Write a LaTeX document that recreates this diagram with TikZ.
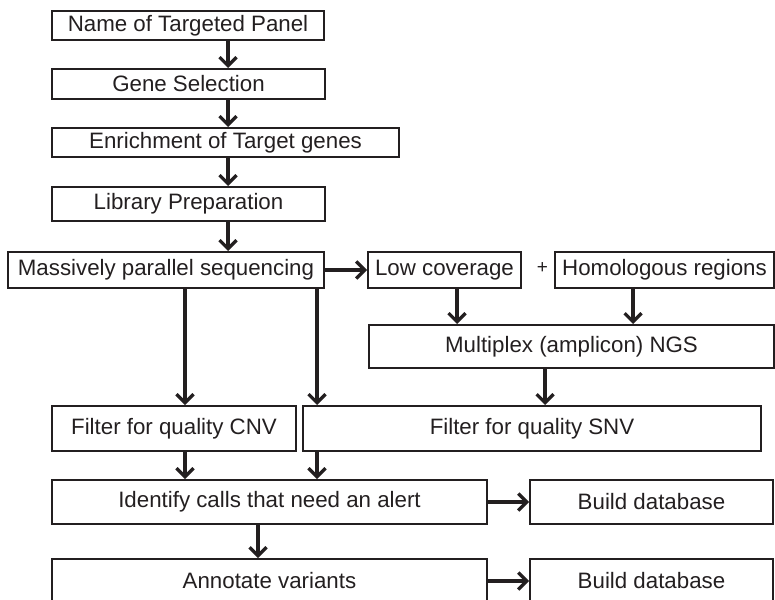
\documentclass[tikz,border=0pt]{standalone}
\usepackage{fontspec}
\setmainfont{Liberation Sans}
\usetikzlibrary{arrows.meta}
\definecolor{ink}{HTML}{231F20}
\tikzset{
  box/.style={draw=ink, line width=2pt, inner sep=0pt, text=ink,
    font=\fontsize{22.3}{24}\selectfont},
  arr/.style={draw=ink, line width=3.4pt,
    -{Straight Barb[length=8.5pt,width=17pt,line width=3.2pt]}},
}
\begin{document}
\begin{tikzpicture}[x=1pt,y=-1pt]
\useasboundingbox (0,0) rectangle (775,599);
\node[box, minimum width=272pt, minimum height=29.5pt] (name) at (188,25.5) {Name of Targeted Panel};
\node[box, minimum width=273pt, minimum height=30pt] (gene) at (188.5,84) {Gene Selection};
\node[box, minimum width=347pt, minimum height=29pt] (enrich) at (225.5,142.5) {Enrichment of Target genes};
\node[box, minimum width=273pt, minimum height=34pt] (lib) at (188.5,204) {Library Preparation};
\node[box, minimum width=316pt, minimum height=36pt] (mps) at (166,270) {Massively parallel sequencing};
\node[box, minimum width=153pt, minimum height=36pt] (low) at (444.5,270) {Low coverage};
\node[box, minimum width=219pt, minimum height=36pt] (homo) at (664.5,270) {Homologous regions};
\node[text=ink, font=\fontsize{19}{21}\selectfont, inner sep=0pt] (plus) at (542.5,268) {+};
\node[box, minimum width=405pt, minimum height=43pt] (multi) at (571.5,346.5) {Multiplex (amplicon) NGS};
\node[box, minimum width=244pt, minimum height=45pt] (cnv) at (174,428.5) {Filter for quality CNV};
\node[box, minimum width=458pt, minimum height=45pt] (snv) at (532,428.5) {Filter for quality SNV};
\node[box, minimum width=435pt, minimum height=44pt] (ident) at (269.5,502) {Identify calls that need an alert};
\node[box, minimum width=243pt, minimum height=44pt] (b1) at (651.5,502) {Build database};
\node[box, minimum width=435pt, minimum height=44pt] (annot) at (269.5,581) {Annotate variants};
\node[box, minimum width=243pt, minimum height=44pt] (b2) at (651.5,581) {Build database};

\coordinate (xa) at (228,0);
\coordinate (xb) at (185,0);
\coordinate (xc) at (317,0);
\coordinate (xd) at (258,0);
\coordinate (xe) at (457,0);
\coordinate (xf) at (633,0);
\coordinate (xg) at (545,0);

\draw[arr] (name.south -| xa) -- (gene.north -| xa);
\draw[arr] (gene.south -| xa) -- (enrich.north -| xa);
\draw[arr] (enrich.south -| xa) -- (lib.north -| xa);
\draw[arr] (lib.south -| xa) -- (mps.north -| xa);
\draw[arr] (mps.east) -- (low.west);
\draw[arr] (low.south -| xe) -- (multi.north -| xe);
\draw[arr] (homo.south -| xf) -- (multi.north -| xf);
\draw[arr] (mps.south -| xb) -- (cnv.north -| xb);
\draw[arr] (mps.south -| xc) -- (snv.north -| xc);
\draw[arr] (multi.south -| xg) -- (snv.north -| xg);
\draw[arr] (cnv.south -| xb) -- (ident.north -| xb);
\draw[arr] (snv.south -| xc) -- (ident.north -| xc);
\draw[arr] (ident.south -| xd) -- (annot.north -| xd);
\draw[arr] (ident.east) -- (b1.west);
\draw[arr] (annot.east) -- (b2.west);
\end{tikzpicture}
\end{document}
